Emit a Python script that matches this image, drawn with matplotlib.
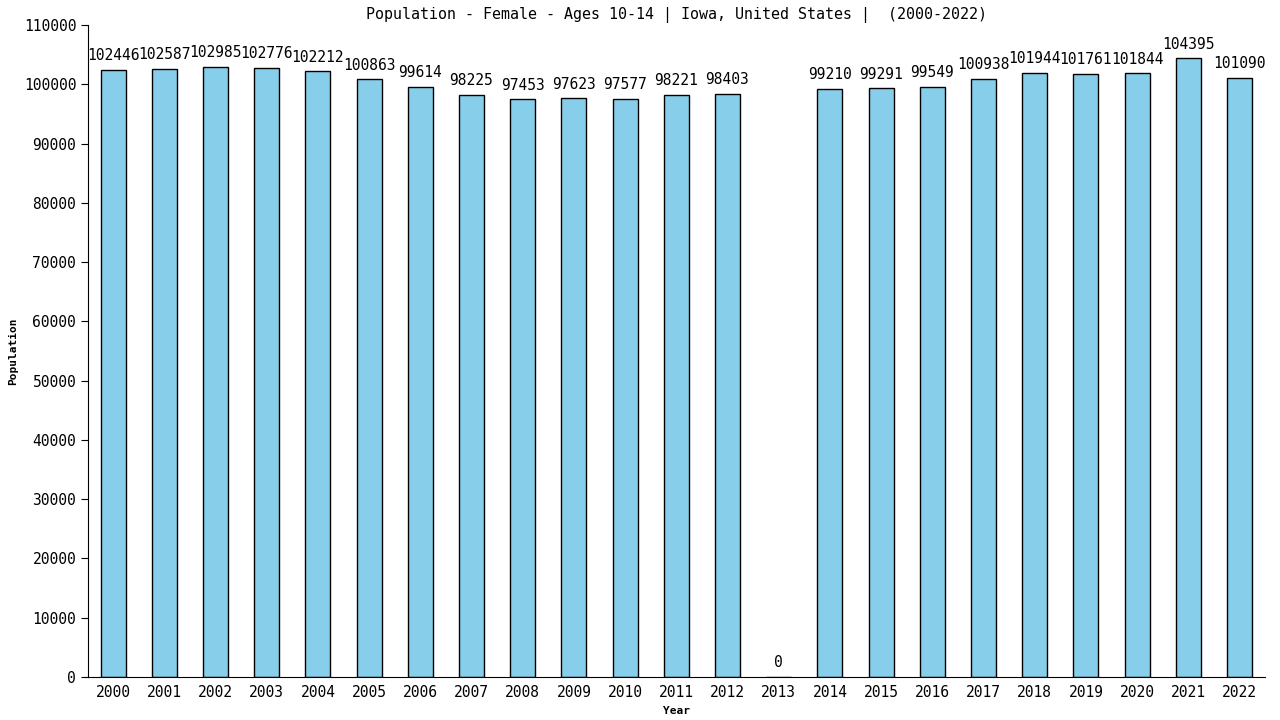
import matplotlib
matplotlib.use("Agg")
import matplotlib.pyplot as plt
import numpy as np

years = [str(y) for y in range(2000, 2023)]
population = [102446, 102587, 102985, 102776, 102212, 100863, 99614, 98225, 97453,
              97623, 97577, 98221, 98403, 0, 99210, 99291, 99549, 100938, 101944,
              101761, 101844, 104395, 101090]

plt.rcParams['font.family'] = ['DejaVu Sans Mono']

fig = plt.figure(figsize=(12.8, 7.2), dpi=100)
ax = fig.add_axes([0.06875, 0.0597, 0.9196, 0.9056])

x = np.arange(len(years))
ax.bar(x, population, width=0.49, color='#87CEEB', edgecolor='black', linewidth=1)
# value labels above each bar
for xi, v in zip(x, population):
    ax.text(xi, v + 1100, str(v), ha='center', va='bottom', fontsize=10.5)

ax.set_xlim(-0.49, 22.5)
ax.set_ylim(0, 110000)
ax.set_xticks(x)
ax.set_xticklabels(years, fontsize=10.5)
ax.set_yticks(range(0, 110001, 10000))
ax.tick_params(axis='y', labelsize=10.5, length=5, direction='out')
ax.tick_params(axis='x', length=0, pad=6)
ax.spines['top'].set_visible(False)
ax.spines['right'].set_visible(False)

ax.set_title('Population - Female - Ages 10-14 | Iowa, United States |  (2000-2022)',
             fontsize=10.8, pad=4)
ax.set_ylabel('Population', fontsize=8, fontweight='bold')
ax.set_xlabel('Year', fontsize=8, fontweight='bold', labelpad=4)

fig.savefig('out.png', dpi=100)
